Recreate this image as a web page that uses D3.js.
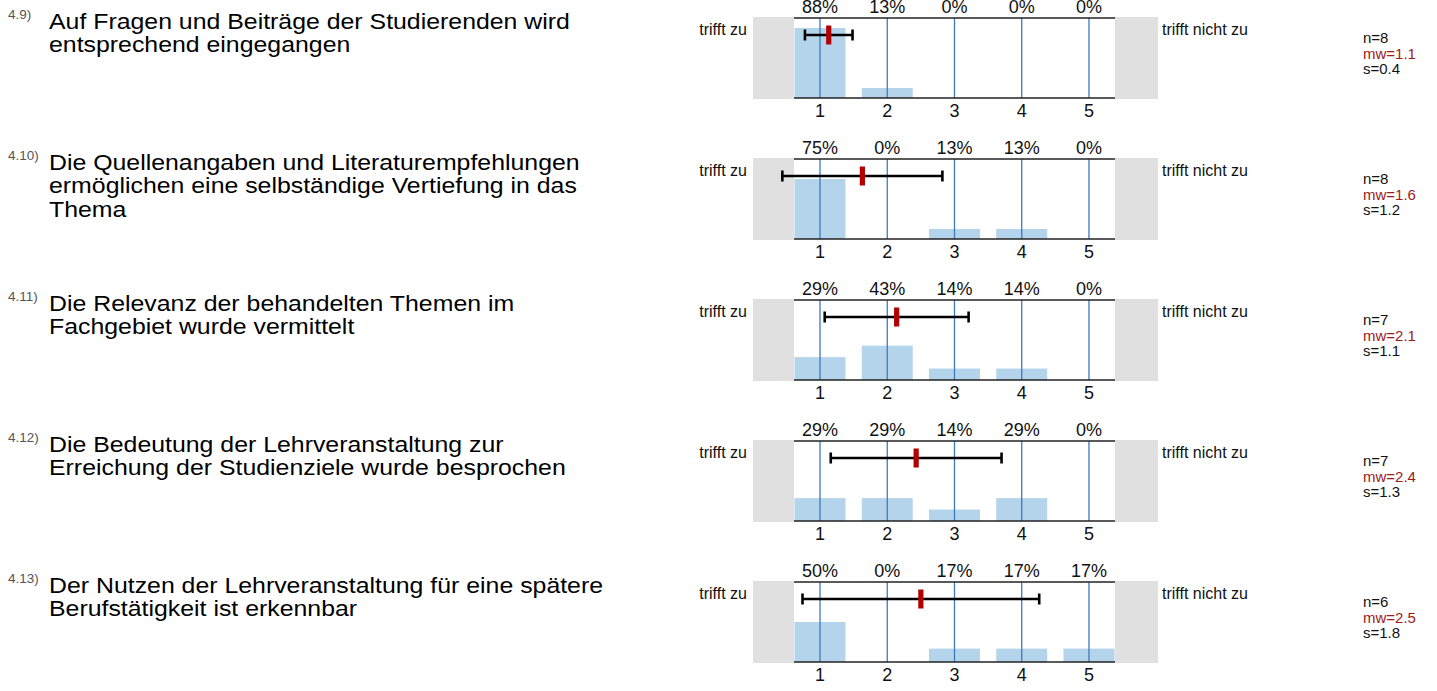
<!DOCTYPE html>
<html>
<head>
<meta charset="utf-8">
<script src="https://cdn.jsdelivr.net/npm/d3@7"></script>
<style>
  html, body { margin: 0; padding: 0; background: #fff; }
  svg { display: block; font-family: "Liberation Sans", Arial, sans-serif; }
</style>
</head>
<body>
<svg id="chart" width="1437" height="691"></svg>
<script>
// ---- data ----
const questionNumbers = ["4.9)", "4.10)", "4.11)", "4.12)", "4.13)"];
const questionTexts = [
  ["Auf Fragen und Beiträge der Studierenden wird", "entsprechend eingegangen"],
  ["Die Quellenangaben und Literaturempfehlungen", "ermöglichen eine selbständige Vertiefung in das", "Thema"],
  ["Die Relevanz der behandelten Themen im", "Fachgebiet wurde vermittelt"],
  ["Die Bedeutung der Lehrveranstaltung zur", "Erreichung der Studienziele wurde besprochen"],
  ["Der Nutzen der Lehrveranstaltung für eine spätere", "Berufstätigkeit ist erkennbar"]
];
const categories = [1, 2, 3, 4, 5];
const percents = [
  [87.5, 12.5, 0, 0, 0],
  [75, 0, 12.5, 12.5, 0],
  [28.6, 42.9, 14.3, 14.3, 0],
  [28.6, 28.6, 14.3, 28.6, 0],
  [50, 0, 16.7, 16.7, 16.7]
];
const counts = [8, 8, 7, 7, 6];
const means = [1.13, 1.63, 2.14, 2.43, 2.5];
const sds = [0.354, 1.19, 1.07, 1.27, 1.76];
const leftLabel = "trifft zu";
const rightLabel = "trifft nicht zu";

// ---- layout ----
const top0 = 18, step = 141, plotH = 80;
const plotL = 794, plotR = 1115;
const x = d3.scaleLinear().domain([0.6134, 5.387]).range([plotL, plotR]);
const h = d3.scaleLinear().domain([0, 100]).range([0, plotH]);
const barW = 51;
const fmt1 = d3.format(".1f");

const svg = d3.select("#chart");

questionNumbers.forEach((num, i) => {
  const top = top0 + i * step;
  const bottom = top + plotH;
  const g = svg.append("g");

  // question number
  g.append("text").attr("x", 8).attr("y", top + 1)
    .attr("font-size", 13.5).attr("fill", "#555").text(num);

  // question text (slightly wide-set, as in the reference)
  const qt = g.append("text")
    .attr("transform", `translate(49,${top + 11}) scale(1.13,1)`)
    .attr("font-size", 22).attr("fill", "#000");
  questionTexts[i].forEach((line, j) => {
    qt.append("tspan").attr("x", 0).attr("y", j * 23.3).text(line);
  });

  // gray side boxes
  g.append("rect").attr("x", 753).attr("y", top - 1).attr("width", plotL - 753).attr("height", plotH + 2).attr("fill", "#e0e0e0");
  g.append("rect").attr("x", plotR).attr("y", top - 1).attr("width", 1158 - plotR).attr("height", plotH + 2).attr("fill", "#e0e0e0");

  // bars
  g.selectAll("rect.bar").data(categories).join("rect").attr("class", "bar")
    .attr("x", c => x(c) - barW / 2)
    .attr("width", barW)
    .attr("y", (c, k) => bottom - h(percents[i][k]))
    .attr("height", (c, k) => h(percents[i][k]))
    .attr("fill", "#b4d4ec");

  // vertical category lines
  g.selectAll("line.v").data(categories).join("line").attr("class", "v")
    .attr("x1", c => x(c)).attr("x2", c => x(c))
    .attr("y1", top).attr("y2", bottom)
    .attr("stroke", "#3d79bd").attr("stroke-width", 1.3);

  // top & bottom lines
  [top, bottom].forEach(yy => {
    g.append("line").attr("x1", plotL).attr("x2", plotR).attr("y1", yy).attr("y2", yy)
      .attr("stroke", "#222").attr("stroke-width", 1.6);
  });

  // percent labels
  g.selectAll("text.pct").data(categories).join("text").attr("class", "pct")
    .attr("x", c => x(c)).attr("y", top - 5)
    .attr("text-anchor", "middle").attr("font-size", 18).attr("fill", "#111")
    .text((c, k) => Math.round(percents[i][k]) + "%");

  // tick labels
  g.selectAll("text.tick").data(categories).join("text").attr("class", "tick")
    .attr("x", c => x(c)).attr("y", bottom + 19)
    .attr("text-anchor", "middle").attr("font-size", 18).attr("fill", "#111")
    .text(c => c);

  // error bar
  const ey = top + 17;
  const lo = x(means[i] - sds[i]), hi = x(means[i] + sds[i]);
  g.append("line").attr("x1", lo).attr("x2", hi).attr("y1", ey).attr("y2", ey)
    .attr("stroke", "#000").attr("stroke-width", 2.6);
  [lo, hi].forEach(xx => {
    g.append("line").attr("x1", xx).attr("x2", xx).attr("y1", ey - 5.5).attr("y2", ey + 5.5)
      .attr("stroke", "#000").attr("stroke-width", 2.6);
  });
  g.append("rect").attr("x", x(means[i]) - 2.6).attr("y", ey - 9.5)
    .attr("width", 5.2).attr("height", 19).attr("fill", "#b20000");

  // side labels
  g.append("text").attr("x", 747).attr("y", top + 17).attr("text-anchor", "end")
    .attr("font-size", 16).attr("fill", "#111").text(leftLabel);
  g.append("text").attr("x", 1162).attr("y", top + 17)
    .attr("font-size", 16).attr("fill", "#111").text(rightLabel);

  // stats
  g.append("text").attr("x", 1363).attr("y", top + 25).attr("font-size", 15).attr("fill", "#111").text("n=" + counts[i]);
  g.append("text").attr("x", 1363).attr("y", top + 40.5).attr("font-size", 15).attr("fill", "#9e1a1a").text("mw=" + fmt1(means[i]));
  g.append("text").attr("x", 1363).attr("y", top + 56).attr("font-size", 15).attr("fill", "#111").text("s=" + fmt1(sds[i]));
});
</script>
</body>
</html>
